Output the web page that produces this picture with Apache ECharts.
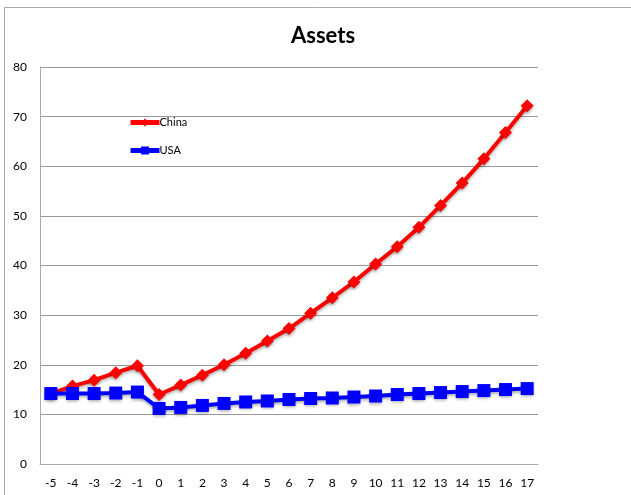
<!DOCTYPE html>
<html><head><meta charset="utf-8">
<script src="https://cdn.jsdelivr.net/npm/echarts@6/dist/echarts.min.js"></script>
<style>html,body{margin:0;padding:0;background:#fff}#c{width:631px;height:495px}</style>
</head><body><div id="c"></div>
<script>
const categories = ['-5','-4','-3','-2','-1','0','1','2','3','4','5','6','7','8','9','10','11','12','13','14','15','16','17'];
const china = [14.2,15.7,16.9,18.4,19.8,14.0,15.9,17.9,20.0,22.3,24.8,27.3,30.4,33.5,36.7,40.3,43.8,47.7,52.1,56.6,61.5,66.8,72.2];
const usa = [14.2,14.2,14.2,14.3,14.5,11.2,11.4,11.8,12.2,12.5,12.7,13.0,13.2,13.3,13.5,13.7,14.0,14.2,14.4,14.6,14.8,15.0,15.2];
const chart = echarts.init(document.getElementById('c'));
const font = 'Lato, "Open Sans", sans-serif';
chart.setOption({
  animation: false,
  graphic: [{type:'rect', shape:{x:4.5,y:7.5,width:640,height:500}, style:{fill:'none', stroke:'#aaa', lineWidth:1}, silent:true, z:-10}],
  title: {text:'Assets', left:291, top:25, textStyle:{fontFamily:font, fontWeight:'bold', fontSize:22, color:'#000'}, padding:0},
  legend: {
    orient:'vertical', left:128, top:117, padding:0, itemGap:17, itemWidth:29, itemHeight:10,
    lineStyle:{width:5},
    textStyle:{fontFamily:font, fontSize:11, color:'#000', padding:[0,0,0,-5]},
    data:['China','USA']
  },
  grid: {left:40, right:93, top:67, bottom:31},
  xAxis: {
    type:'category', data:categories, boundaryGap:true,
    axisLine:{lineStyle:{color:'#aaa'}}, axisTick:{show:false},
    axisLabel:{fontFamily:font, fontSize:12, color:'#000', margin:13}
  },
  yAxis: {
    type:'value', min:0, max:80, interval:10,
    axisLine:{show:true, lineStyle:{color:'#aaa'}}, axisTick:{show:false},
    splitLine:{lineStyle:{color:'#999'}},
    axisLabel:{fontFamily:font, fontSize:12, color:'#000', margin:13, padding:[4,0,0,0]}
  },
  series: [
    {name:'China', type:'line', data:china, symbol:'diamond', symbolSize:13,
     lineStyle:{color:'#ff0000', width:4, shadowColor:'rgba(0,0,0,0.3)', shadowBlur:3, shadowOffsetY:2},
     itemStyle:{color:'#ff0000', shadowColor:'rgba(0,0,0,0.3)', shadowBlur:3, shadowOffsetY:2}, z:2},
    {name:'USA', type:'line', data:usa, symbol:'rect', symbolSize:13,
     lineStyle:{color:'#0000ff', width:4, shadowColor:'rgba(0,0,0,0.3)', shadowBlur:3, shadowOffsetY:2},
     itemStyle:{color:'#0000ff', shadowColor:'rgba(0,0,0,0.3)', shadowBlur:3, shadowOffsetY:2}, z:3}
  ]
});
</script></body></html>
